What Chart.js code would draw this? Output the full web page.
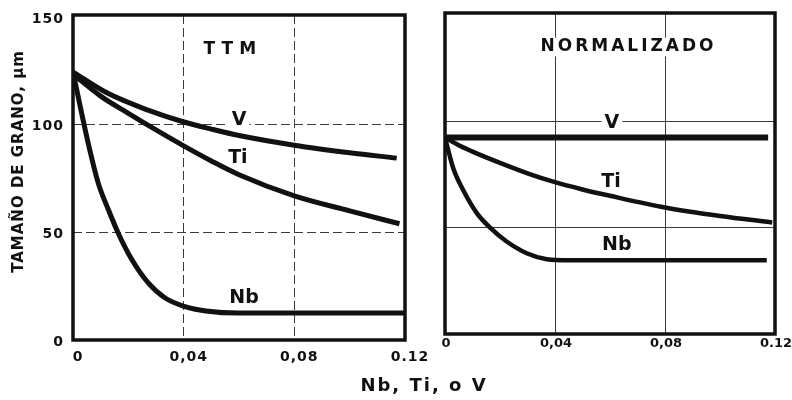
<!DOCTYPE html>
<html>
<head>
<meta charset="utf-8">
<title>Tamaño de grano</title>
<script src="https://cdn.jsdelivr.net/npm/chart.js@4.4.1/dist/chart.umd.min.js"></script>
<style>
  html, body { margin: 0; padding: 0; background: #fff; overflow: hidden; }
  #wrap { position: relative; width: 792px; height: 400px; }
  #wrap canvas { position: absolute; left: 0; top: 0; }
</style>
</head>
<body>
<div id="wrap">
  <canvas id="ttm" width="792" height="400"></canvas>
  <canvas id="norm" width="792" height="400"></canvas>
</div>
<script>
// grain size (µm) against Nb, Ti or V content, two processing routes
const xTicks = [0, 0.04, 0.08, 0.12]
const xTickLabels = ['0', '0,04', '0,08', '0.12']
const yTicks = [0, 50, 100, 150]
const yTickLabels = ['0', '50', '100', '150']

// TTM
const ttmVX = [0, 0.0126, 0.0271, 0.0398, 0.05, 0.06, 0.08, 0.10, 0.117]
const ttmV = [124.5, 114.6, 106.8, 101.4, 98, 95, 90.5, 87, 84.5]
const ttmTiX = [0, 0.01, 0.02, 0.03, 0.04, 0.05, 0.06, 0.08, 0.10, 0.118]
const ttmTi = [123.5, 113.3, 105.3, 97.6, 90.2, 83.2, 76.8, 67, 60, 54]
const ttmNbX = [0, 0.0054, 0.0091, 0.0128, 0.0164, 0.0212, 0.0272, 0.0333, 0.0405, 0.048, 0.06, 0.08, 0.10, 0.12]
const ttmNb = [124.5, 92, 73, 60.5, 49.5, 37.5, 26.5, 19.5, 15.5, 13.5, 12.5, 12.5, 12.5, 12.5]

// Normalizado
const normVX = [0, 0.1175]
const normV = [92.4, 92.4]
const normTiX = [0, 0.005, 0.01, 0.02, 0.03, 0.04, 0.05, 0.06, 0.08, 0.10, 0.119]
const normTi = [92.4, 88.8, 85.8, 80.5, 75.6, 71.4, 68, 65, 59.5, 55.5, 52.5]
const normNbX = [0, 0.003, 0.0067, 0.0115, 0.0164, 0.0224, 0.0297, 0.037, 0.045, 0.06, 0.08, 0.10, 0.117]
const normNb = [92.4, 78, 67.5, 57, 50, 43.5, 38, 35.2, 34.7, 34.7, 34.7, 34.7, 34.7]

const ink = '#111'
const font = '"DejaVu Sans", "Liberation Sans", sans-serif'

const points = (xs, ys) => xs.map((x, i) => ({ x, y: ys[i] }))

function curve(label, xs, ys, width) {
  return {
    label,
    data: points(xs, ys),
    borderColor: ink,
    borderWidth: width,
    pointRadius: 0,
    cubicInterpolationMode: 'monotone',
    borderCapStyle: 'butt',
    fill: false
  }
}

// frame, in-plot labels and free titles
const panelDecor = {
  id: 'panelDecor',
  beforeLayout(chart, args, opts) { chart.ctx.letterSpacing = opts.tickSpacing + 'px' },
  beforeDraw(chart, args, opts) { chart.ctx.letterSpacing = opts.tickSpacing + 'px' },
  beforeDatasetsDraw(chart, args, opts) {
    const { ctx, scales: { x, y } } = chart
    ctx.save()
    ctx.textAlign = 'center'
    ctx.textBaseline = 'middle'
    for (const l of opts.labels || []) {
      const sp = l.spacing || 0
      ctx.font = `bold ${l.size}px ${font}`
      ctx.letterSpacing = sp + 'px'
      const px = x.getPixelForValue(l.x)
      const py = y.getPixelForValue(l.y)
      const w = ctx.measureText(l.text).width
      ctx.fillStyle = '#fff'
      ctx.fillRect(px - w / 2 - 3, py - l.size * 0.55, w + 6, l.size * 1.1)
      ctx.fillStyle = ink
      ctx.fillText(l.text, px + sp / 2, py)
    }
    ctx.restore()
  },
  afterDraw(chart, args, opts) {
    const { ctx, chartArea: a } = chart
    ctx.save()
    ctx.lineWidth = opts.frameWidth
    ctx.strokeStyle = ink
    ctx.strokeRect(a.left, a.top, a.right - a.left, a.bottom - a.top)
    ctx.fillStyle = ink
    ctx.textAlign = 'center'
    ctx.textBaseline = 'middle'
    for (const t of opts.titles || []) {
      ctx.save()
      ctx.font = `bold ${t.size}px ${font}`
      ctx.letterSpacing = t.spacing + 'px'
      ctx.translate(t.px, t.py)
      ctx.rotate(t.angle || 0)
      ctx.fillText(t.text, t.spacing / 2, 0)
      ctx.restore()
    }
    ctx.restore()
  }
}

function panel(canvasId, datasets, cfg) {
  const gridColor = last => c => (c.index === 0 || c.index === last) ? 'rgba(0,0,0,0)' : '#3a3a3a'
  const tickFont = { family: font, size: cfg.tickSize, weight: 'bold' }
  return new Chart(document.getElementById(canvasId), {
    type: 'line',
    data: { datasets },
    plugins: [panelDecor],
    options: {
      responsive: false,
      animation: false,
      layout: { padding: cfg.padding },
      plugins: {
        legend: { display: false },
        tooltip: { enabled: false },
        panelDecor: {
          frameWidth: 3.5,
          tickSpacing: cfg.tickSpacing,
          labels: cfg.labels,
          titles: cfg.titles
        }
      },
      scales: {
        x: {
          type: 'linear',
          min: 0,
          max: 0.12,
          afterBuildTicks: s => { s.ticks = xTicks.map(v => ({ value: v })) },
          afterFit: s => { s.height = cfg.xHeight; s.paddingLeft = 0; s.paddingRight = 0 },
          ticks: {
            callback: (v, i) => xTickLabels[i],
            color: ink,
            font: tickFont,
            padding: cfg.xPad,
            labelOffset: cfg.xOffset,
            maxRotation: 0,
            autoSkip: false
          },
          grid: { color: gridColor(xTicks.length - 1), lineWidth: 1, drawTicks: false },
          border: { display: false, dash: cfg.dash }
        },
        y: {
          type: 'linear',
          min: 0,
          max: 151,
          afterBuildTicks: s => { s.ticks = yTicks.map(v => ({ value: v })) },
          afterFit: s => { s.width = cfg.yWidth; s.paddingTop = 0; s.paddingBottom = 0 },
          ticks: {
            display: cfg.yLabels,
            callback: (v, i) => yTickLabels[i],
            color: ink,
            font: tickFont,
            padding: 9,
            labelOffset: 2
          },
          grid: { color: gridColor(yTicks.length - 1), lineWidth: 1, drawTicks: false },
          border: { display: false, dash: cfg.dash }
        }
      }
    }
  })
}

panel('ttm', [
  curve('V', ttmVX, ttmV, 5),
  curve('Ti', ttmTiX, ttmTi, 5),
  curve('Nb', ttmNbX, ttmNb, 5)
], {
  padding: { left: 0, top: 15, right: 387, bottom: 0 },
  yWidth: 73,
  xHeight: 60,
  xPad: 9,
  xOffset: 5,
  tickSize: 14,
  tickSpacing: 1,
  yLabels: true,
  dash: [9, 4],
  labels: [
    { text: 'TTM', x: 0.0567, y: 135, size: 17, spacing: 6 },
    { text: 'V', x: 0.06, y: 102.2, size: 19 },
    { text: 'Ti', x: 0.0596, y: 84.5, size: 19 },
    { text: 'Nb', x: 0.0618, y: 19.5, size: 19 }
  ],
  titles: [
    { text: 'TAMAÑO DE GRANO, µm', px: 19, py: 162, size: 15, spacing: 1, angle: -Math.PI / 2 },
    { text: 'Nb, Ti, o V', px: 423, py: 386, size: 18, spacing: 2 }
  ]
})

panel('norm', [
  curve('V', normVX, normV, 6),
  curve('Ti', normTiX, normTi, 4.5),
  curve('Nb', normNbX, normNb, 4.5)
], {
  padding: { left: 420, top: 13, right: 17, bottom: 0 },
  yWidth: 25,
  xHeight: 66,
  xPad: 2,
  xOffset: 1,
  tickSize: 13,
  tickSpacing: 0,
  yLabels: false,
  dash: [],
  labels: [
    { text: 'NORMALIZADO', x: 0.0662, y: 135, size: 17, spacing: 3 },
    { text: 'V', x: 0.0607, y: 99.2, size: 19 },
    { text: 'Ti', x: 0.0604, y: 71.5, size: 19 },
    { text: 'Nb', x: 0.0625, y: 41.9, size: 19 }
  ],
  titles: []
})
</script>
</body>
</html>
